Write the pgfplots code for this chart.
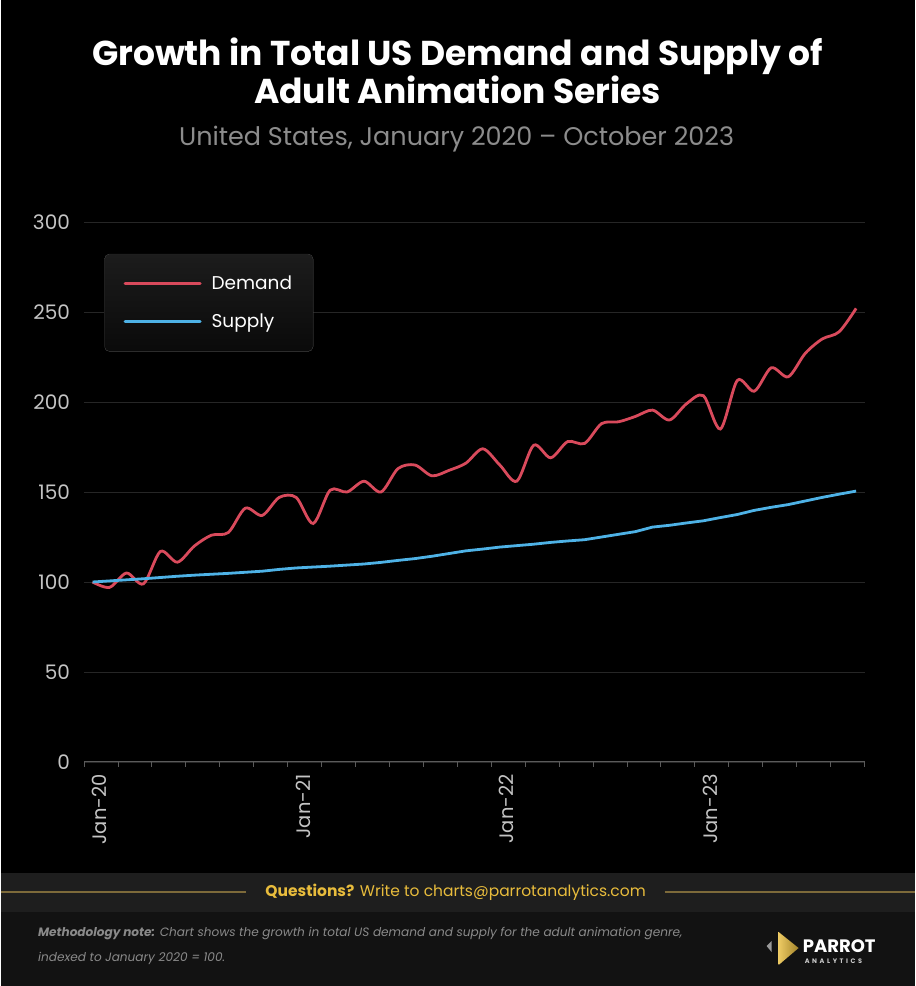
\documentclass[border=0pt]{standalone}
\usepackage{fontspec}
\setmainfont{Poppins}
\usepackage{pgfplots}
\pgfplotsset{compat=1.18}
\usepackage{pgfplotstable}

\definecolor{demandred}{HTML}{D94A5C}
\definecolor{supplyblue}{HTML}{4EB2E6}
\definecolor{gridgray}{HTML}{262626}
\definecolor{ticklab}{HTML}{C4C4C4}
\definecolor{subgray}{HTML}{8C8C8C}
\definecolor{bandgray}{HTML}{1E1E1E}
\definecolor{footgray}{HTML}{121212}
\definecolor{gold}{HTML}{E8BC3C}
\definecolor{golddim}{HTML}{7D6A3A}
\definecolor{notegray}{HTML}{8A8A8A}
\definecolor{axisgray}{HTML}{5A5A5A}

% month index (Jan 2020 = 0), index value
\pgfplotstableread{
m v
0 100
1 97
2 105
3 99
4 117
5 111
6 120
7 126
8 127.5
9 141
10 137
11 147
12 147
13 132.5
14 151
15 150
16 156
17 150
18 163
19 165
20 159
21 162
22 166
23 174
24 165
25 156
26 176
27 169
28 178
29 177
30 188
31 189
32 192
33 195.5
34 190
35 199
36 203.5
37 185
38 212
39 206
40 219
41 214
42 227
43 235
44 239
45 252
}\demand

\pgfplotstableread{
m v
0 100
1 100.6
2 101.2
3 101.8
4 102.5
5 103.2
6 103.8
7 104.3
8 104.8
9 105.4
10 106
11 107
12 107.8
13 108.3
14 108.8
15 109.4
16 110
17 110.9
18 112
19 113
20 114.3
21 115.8
22 117.3
23 118.3
24 119.4
25 120.2
26 121
27 122
28 122.8
29 123.5
30 125
31 126.5
32 128
33 130.5
34 131.5
35 132.8
36 134
37 135.8
38 137.5
39 139.8
40 141.5
41 143
42 145
43 147
44 148.8
45 150.5
}\supply

\begin{document}
\begin{tikzpicture}[x=1pt,y=1pt]
% page background and footer bands
\fill[black] (0,0) rectangle (914,986);
\fill[bandgray] (0,74) rectangle (914,113);
\fill[footgray] (0,0) rectangle (914,74);

% titles
\node[text=white, font=\bfseries\fontsize{34.5}{38}\selectfont, align=center] at (457,915)
  {Growth in Total US Demand and Supply of\\Adult Animation Series};
\node[text=subgray, font=\fontsize{25.5}{28}\selectfont] at (456,847)
  {United States, January 2020 -- October 2023};

\begin{axis}[
  at={(83.5pt,224pt)}, anchor=south west,
  scale only axis, width=780.5pt, height=540pt,
  xmin=-0.5, xmax=45.5, ymin=0, ymax=300,
  axis x line=bottom, axis y line=left,
  axis line style={-},
  x axis line style={draw=axisgray, line width=1pt},
  y axis line style={draw=none},
  ytick={0,50,...,300},
  ymajorgrids, grid style={draw=gridgray, line width=0.9pt},
  ytick style={draw=none},
  yticklabel style={text=ticklab, font=\fontsize{20}{22}\selectfont, anchor=east, inner sep=0pt, xshift=-9pt},
  /pgf/number format/assume math mode=true,
  % two-month tick marks along the time axis
  xtick={-0.5,1.5,...,45.5},
  xticklabels={},
  x tick style={draw=axisgray, line width=1pt},
  major tick length=5pt, tick align=outside,
  % year labels
  extra x ticks={0,12,24,36},
  extra x tick labels={Jan-20,Jan-21,Jan-22,Jan-23},
  extra x tick style={major tick length=0pt, tick style={draw=none}},
  xticklabel style={text=ticklab, font=\fontsize{19.5}{22}\selectfont, rotate=90, anchor=east, inner sep=0pt, yshift=-7pt, xshift=-12pt},
  clip=false,
  legend cell align=left,
  legend image code/.code={\draw[#1, line width=3pt, line cap=round] (0pt,0pt) -- (75pt,0pt);},
  legend style={
    at={(rel axis cs:0.026,0.941)}, anchor=north west,
    draw=white!14!black, rounded corners=5pt,
    top color=white!11!black, bottom color=white!4!black,
    text=white, font=\fontsize{18.5}{22}\selectfont,
    inner xsep=19pt, inner ysep=20pt, row sep=19pt, column sep=8pt,
  },
]
\addplot[demandred, line width=2.8pt, smooth, tension=0.5] table[x=m, y=v] {\demand};
\addlegendentry{Demand}
\addplot[supplyblue, line width=2.8pt, line join=round] table[x=m, y=v] {\supply};
\addlegendentry{Supply}
\end{axis}

% footer: contact line
\draw[golddim, line width=1.2pt] (0,94) -- (245,94);
\draw[golddim, line width=1.2pt] (664,94) -- (914,94);
\node[text=gold, font=\fontsize{15.5}{18}\selectfont] at (455,94)
  {\bfseries Questions?\mdseries{} Write to charts@parrotanalytics.com};

% footer: methodology note
\node[text=notegray, font=\itshape\fontsize{12.1}{14}\selectfont, anchor=base west] at (34,49)
  {\bfseries Methodology note:\mdseries{} Chart shows the growth in total US demand and supply for the adult animation genre,};
\node[text=notegray, font=\itshape\fontsize{12.1}{14}\selectfont, anchor=base west] at (34,24)
  {indexed to January 2020 = 100.};

% footer: logo
\fill[gray!80] (771,45) -- (766,40) -- (771,34) -- cycle;
\shade[left color=gold!80!white, right color=gold!70!black] (778,54) -- (798,38) -- (778,21) -- cycle;
\node[text=white, font=\bfseries\fontsize{18}{20}\selectfont, anchor=west, inner sep=0pt] at (802,40) {PARROT};
\node[text=white!80!black, font=\bfseries\fontsize{6.5}{8}\selectfont\addfontfeatures{LetterSpace=40}, anchor=west, inner sep=0pt] at (804,25) {ANALYTICS};
\end{tikzpicture}
\end{document}
